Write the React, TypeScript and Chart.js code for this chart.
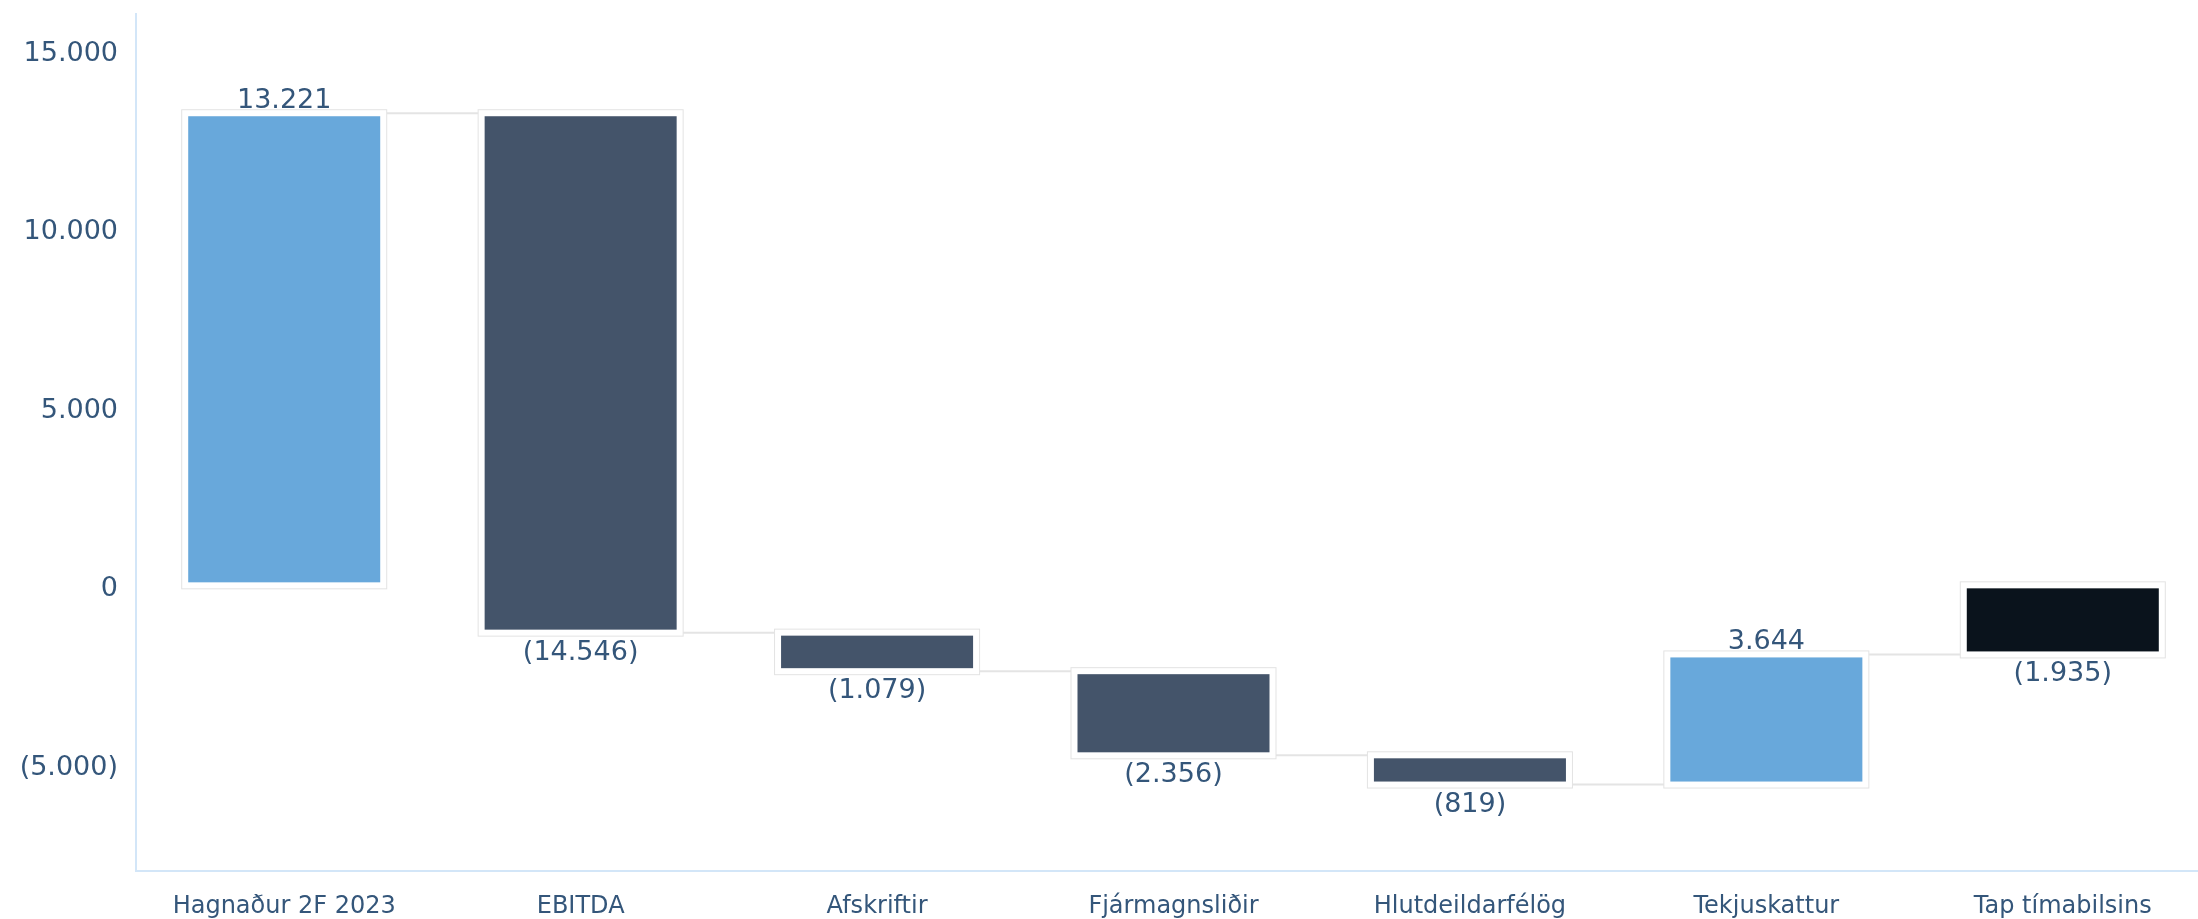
import React, { useEffect, useRef } from 'react';
import { Chart, registerables } from 'chart.js';

Chart.register(...registerables);

const categories = [
  'Hagnaður 2F 2023',
  'EBITDA',
  'Afskriftir',
  'Fjármagnsliðir',
  'Hlutdeildarfélög',
  'Tekjuskattur',
  'Tap tímabilsins',
];
const steps = [13221, -14546, -1079, -2356, -819, 3644];
const total = -1935;
const yTicks = [-5000, 0, 5000, 10000, 15000];
const yMin = -8000;
const yMax = 16000;

const COLOR_UP = '#68a8db';
const COLOR_DOWN = '#44546a';
const COLOR_TOTAL = '#0a131c';
const TEXT = '#34567a';
const AXIS = '#d3e6f8';
const FONT = '"DejaVu Sans", Verdana, sans-serif';

function fmt(n: number): string {
  const s = Math.abs(Math.round(n)).toString().replace(/\B(?=(\d{3})+(?!\d))/g, '.');
  return n < 0 ? `(${s})` : s;
}

export default function App() {
  const ref = useRef<HTMLCanvasElement | null>(null);

  useEffect(() => {
    if (!ref.current) return;
    let run = 0;
    const ranges: [number, number][] = steps.map((v) => {
      const s = run;
      run += v;
      return [s, run];
    });
    ranges.push([0, total]);
    const shown = [...steps, total];
    const colors = shown.map((v, i) =>
      i === shown.length - 1 ? COLOR_TOTAL : v >= 0 ? COLOR_UP : COLOR_DOWN
    );

    const decor = {
      id: 'decor',
      afterDatasetsDraw(chart: any) {
        const ctx = chart.ctx as CanvasRenderingContext2D;
        const els = chart.getDatasetMeta(0).data as any[];
        const ys = chart.scales.y;
        ctx.save();
        ctx.strokeStyle = '#e4e4e4';
        ctx.lineWidth = 2;
        for (let i = 0; i < els.length - 1; i++) {
          const a = els[i];
          const b = els[i + 1];
          const y = ys.getPixelForValue(ranges[i][1]);
          ctx.beginPath();
          ctx.moveTo(a.x + a.width / 2 + 3.5, y);
          ctx.lineTo(b.x - b.width / 2 - 3.5, y);
          ctx.stroke();
        }
        els.forEach((el, i) => {
          const l = el.x - el.width / 2;
          const top = Math.min(el.y, el.base);
          const h = Math.abs(el.base - el.y);
          ctx.strokeStyle = '#ffffff';
          ctx.lineWidth = 6;
          ctx.strokeRect(l, top, el.width, h);
          ctx.strokeStyle = '#e3e3e3';
          ctx.lineWidth = 1;
          ctx.strokeRect(l - 3.5, top - 3.5, el.width + 7, h + 7);
          const v = shown[i];
          ctx.fillStyle = TEXT;
          ctx.font = `27px ${FONT}`;
          ctx.textAlign = 'center';
          ctx.textBaseline = 'alphabetic';
          if (v >= 0) ctx.fillText(fmt(v), el.x, top - 5);
          else ctx.fillText(fmt(v), el.x, top + h + 27);
        });
        ctx.restore();
      },
    };

    const chart = new Chart(ref.current, {
      type: 'bar',
      data: {
        labels: categories,
        datasets: [
          {
            data: ranges as any,
            backgroundColor: colors,
            borderWidth: 0,
            barPercentage: 0.668,
            categoryPercentage: 1,
          },
        ],
      },
      options: {
        animation: false,
        responsive: false,
        devicePixelRatio: 1,
        layout: { padding: { top: 14, bottom: 1, left: 0, right: 1 } },
        plugins: {
          legend: { display: false },
          tooltip: { enabled: false },
        },
        scales: {
          x: {
            grid: { display: false, drawTicks: false },
            border: { display: true, color: AXIS, width: 2 },
            afterFit: (scale: any) => {
              scale.height = 47;
            },
            ticks: {
              color: TEXT,
              font: { family: FONT, size: 24, lineHeight: 1.2 },
              padding: 21,
              maxRotation: 0,
              autoSkip: false,
            },
          },
          y: {
            min: yMin,
            max: yMax,
            grid: { display: false, drawTicks: false },
            border: { display: true, color: AXIS, width: 2 },
            afterBuildTicks: (scale: any) => {
              scale.ticks = yTicks.map((v) => ({ value: v }));
            },
            afterFit: (scale: any) => {
              scale.width = 136;
              scale.paddingTop = 0;
              scale.paddingBottom = 0;
            },
            ticks: {
              color: TEXT,
              font: { family: FONT, size: 27, lineHeight: 1 },
              padding: 18,
              labelOffset: 4,
              callback: (v: any) => fmt(Number(v)),
            },
          },
        },
      },
      plugins: [decor],
    });
    return () => chart.destroy();
  }, []);

  return (
    <div
      style={{
        position: 'fixed',
        left: 0,
        top: 0,
        width: 2198,
        height: 919,
        overflow: 'hidden',
        background: '#fff',
      }}
    >
      <canvas ref={ref} width={2212} height={919} style={{ display: 'block' }} />
    </div>
  );
}
